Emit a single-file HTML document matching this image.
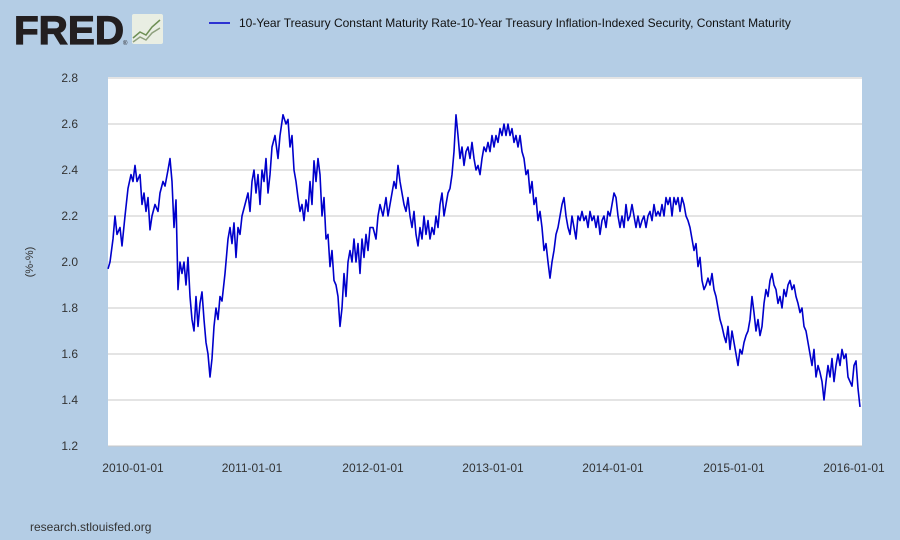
<!DOCTYPE html>
<html><head><meta charset="utf-8"><style>
body{margin:0;width:900px;height:540px;background:#b4cde5;font-family:"Liberation Sans",sans-serif;overflow:hidden}
</style></head><body>
<svg width="900" height="540" xmlns="http://www.w3.org/2000/svg" style="position:absolute;left:0;top:0">
<text x="14" y="44" font-family="Liberation Sans" font-weight="bold" font-size="40" fill="#231f20" textLength="110" lengthAdjust="spacingAndGlyphs" stroke="#231f20" stroke-width="1.2">FRED</text>
<text x="123" y="45" font-size="6" fill="#231f20">®</text>
<rect x="132" y="14" width="31" height="30" fill="#e9eee3" rx="2"/>
<polyline points="133,38 140,32 146,35 152,27 160,20" fill="none" stroke="#6e8f55" stroke-width="1.5"/>
<polyline points="133,42 140,37 146,40 152,33 160,28" fill="none" stroke="#8ea07d" stroke-width="1.5"/>
<line x1="209" y1="23" x2="230" y2="23" stroke="#0000cc" stroke-width="1.5"/>
<text x="239" y="27" font-size="12" fill="#111">10-Year Treasury Constant Maturity Rate-10-Year Treasury Inflation-Indexed Security, Constant Maturity</text>
<rect x="108" y="77" width="754" height="369" fill="#fff"/>
<g stroke="#c8c8c8" stroke-width="1" id="grid"></g>
<g font-size="12" fill="#333" text-anchor="end" id="yl"></g>
<g font-size="12" fill="#333" text-anchor="middle">
<text x="133" y="472">2010-01-01</text><text x="252" y="472">2011-01-01</text><text x="373" y="472">2012-01-01</text><text x="493" y="472">2013-01-01</text><text x="613" y="472">2014-01-01</text><text x="734" y="472">2015-01-01</text><text x="854" y="472">2016-01-01</text>
</g>
<text x="33" y="262" font-size="11" fill="#333" text-anchor="middle" transform="rotate(-90 33 262)">(%-%)</text>
<text x="30" y="531" font-size="12" fill="#333">research.stlouisfed.org</text>
<polyline id="ser" fill="none" stroke="#0000cc" stroke-width="1.6" stroke-linejoin="round"/>
</svg>
<script>
var ns="http://www.w3.org/2000/svg";
var g=document.getElementById('grid'),yl=document.getElementById('yl');
for(var i=0;i<=8;i++){var v=1.2+i*0.2,y=446-(v-1.2)*230;
var l=document.createElementNS(ns,'line');l.setAttribute('x1',108);l.setAttribute('x2',862);l.setAttribute('y1',y);l.setAttribute('y2',y);g.appendChild(l);
var t=document.createElementNS(ns,'text');t.setAttribute('x',78);t.setAttribute('y',y+4);t.textContent=v.toFixed(1);yl.appendChild(t);}
var d=[108,1.97,110,2.0,113,2.1,115,2.2,117,2.12,120,2.15,122,2.07,125,2.2,128,2.32,131,2.38,133,2.35,135,2.42,137,2.35,140,2.38,142,2.25,144,2.3,146,2.22,148,2.28,150,2.14,152,2.2,155,2.25,158,2.22,160,2.3,163,2.35,165,2.33,168,2.4,170,2.45,172,2.35,174,2.15,176,2.27,178,1.88,180,2.0,182,1.95,184,2.0,186,1.9,188,2.02,190,1.85,192,1.75,194,1.7,196,1.85,198,1.72,200,1.82,202,1.87,204,1.75,206,1.65,208,1.6,210,1.5,212,1.58,214,1.72,216,1.8,218,1.75,220,1.85,222,1.83,225,1.95,228,2.1,230,2.15,232,2.08,234,2.17,236,2.02,238,2.15,240,2.12,242,2.2,245,2.25,248,2.3,250,2.22,252,2.35,254,2.4,256,2.3,258,2.38,260,2.25,262,2.4,264,2.35,266,2.45,268,2.3,270,2.38,272,2.5,275,2.55,278,2.45,280,2.55,283,2.64,286,2.6,288,2.62,290,2.5,292,2.55,294,2.4,296,2.35,298,2.28,300,2.22,302,2.25,304,2.18,306,2.27,308,2.22,310,2.35,312,2.25,314,2.44,316,2.35,318,2.45,320,2.38,322,2.2,324,2.28,326,2.1,328,2.12,330,1.98,332,2.05,334,1.92,336,1.9,338,1.85,340,1.72,342,1.8,344,1.95,346,1.85,348,2.0,350,2.05,352,2.0,354,2.1,356,2.0,358,2.08,360,1.95,362,2.1,364,2.02,366,2.12,368,2.05,370,2.15,373,2.15,376,2.1,378,2.2,380,2.25,383,2.2,386,2.28,388,2.2,390,2.25,392,2.3,394,2.35,396,2.32,398,2.42,400,2.35,402,2.3,404,2.25,406,2.22,408,2.28,410,2.2,412,2.15,414,2.22,416,2.12,418,2.07,420,2.15,422,2.1,424,2.2,426,2.12,428,2.18,430,2.1,432,2.15,434,2.12,436,2.2,438,2.15,440,2.25,442,2.3,444,2.2,446,2.25,448,2.3,450,2.32,452,2.38,454,2.48,456,2.64,458,2.55,460,2.45,462,2.5,464,2.42,466,2.48,468,2.5,470,2.45,472,2.52,474,2.45,476,2.4,478,2.42,480,2.38,482,2.45,484,2.5,486,2.48,488,2.52,490,2.48,492,2.55,494,2.5,496,2.55,498,2.52,500,2.58,502,2.55,504,2.6,506,2.55,508,2.6,510,2.55,512,2.58,514,2.52,516,2.55,518,2.5,520,2.55,522,2.48,524,2.45,526,2.38,528,2.4,530,2.3,532,2.35,534,2.25,536,2.28,538,2.18,540,2.22,542,2.15,544,2.05,546,2.08,548,2.0,550,1.93,552,2.0,554,2.05,556,2.12,558,2.15,560,2.2,562,2.25,564,2.28,566,2.2,568,2.15,570,2.12,572,2.2,574,2.15,576,2.1,578,2.2,580,2.18,582,2.22,584,2.18,586,2.2,588,2.15,590,2.22,592,2.18,594,2.2,596,2.15,598,2.2,600,2.12,602,2.18,604,2.2,606,2.15,608,2.22,610,2.2,612,2.25,614,2.3,616,2.28,618,2.2,620,2.15,622,2.2,624,2.15,626,2.25,628,2.18,630,2.2,632,2.25,634,2.2,636,2.15,638,2.2,640,2.15,642,2.18,644,2.2,646,2.15,648,2.2,650,2.22,652,2.18,654,2.25,656,2.2,658,2.22,660,2.2,662,2.25,664,2.2,666,2.28,668,2.25,670,2.28,672,2.2,674,2.28,676,2.25,678,2.28,680,2.22,682,2.28,684,2.25,686,2.2,688,2.18,690,2.15,692,2.1,694,2.05,696,2.08,698,1.98,700,2.02,702,1.92,704,1.88,706,1.9,708,1.93,710,1.9,712,1.95,714,1.88,716,1.85,718,1.8,720,1.75,722,1.72,724,1.68,726,1.65,728,1.72,730,1.62,732,1.7,734,1.65,736,1.6,738,1.55,740,1.62,742,1.6,744,1.65,746,1.68,748,1.7,750,1.75,752,1.85,754,1.78,756,1.7,758,1.75,760,1.68,762,1.72,764,1.82,766,1.88,768,1.85,770,1.92,772,1.95,774,1.9,776,1.88,778,1.82,780,1.85,782,1.8,784,1.88,786,1.85,788,1.9,790,1.92,792,1.88,794,1.9,796,1.85,798,1.82,800,1.78,802,1.8,804,1.72,806,1.7,808,1.65,810,1.6,812,1.55,814,1.62,816,1.5,818,1.55,820,1.52,822,1.48,824,1.4,826,1.48,828,1.55,830,1.5,832,1.58,834,1.48,836,1.55,838,1.6,840,1.55,842,1.62,844,1.58,846,1.6,848,1.5,850,1.48,852,1.46,854,1.55,856,1.57,858,1.45,860,1.37];
var p=[];for(var k=0;k<d.length;k+=2){p.push(d[k]+','+(446-(d[k+1]-1.2)*230).toFixed(1));}
document.getElementById('ser').setAttribute('points',p.join(' '));
</script>
</body></html>
